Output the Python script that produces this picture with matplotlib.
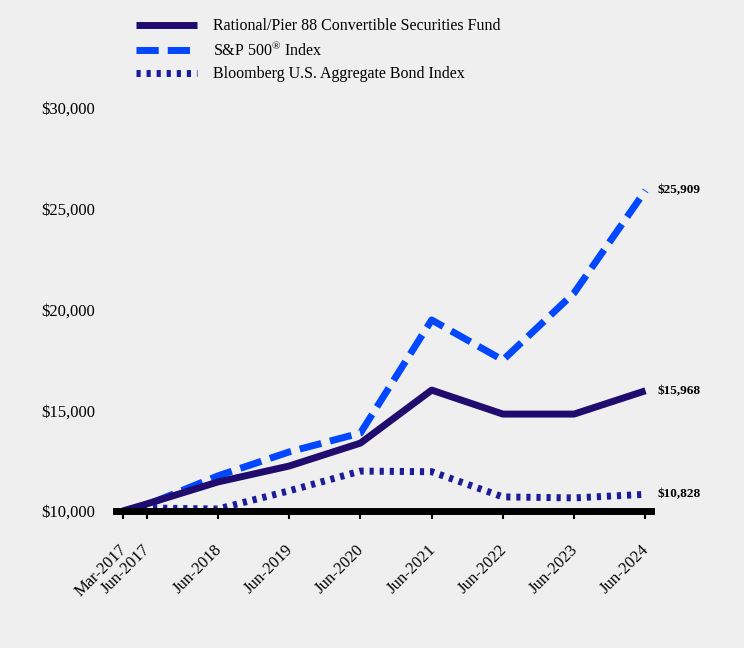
import datetime as dt
import matplotlib
matplotlib.use("Agg")
import matplotlib.pyplot as plt
import matplotlib.dates as mdates
import matplotlib.transforms as mtransforms

dates = [dt.date(2017, 3, 1), dt.date(2017, 6, 30), dt.date(2018, 6, 30),
         dt.date(2019, 6, 30), dt.date(2020, 6, 30), dt.date(2021, 6, 30),
         dt.date(2022, 6, 30), dt.date(2023, 6, 30), dt.date(2024, 6, 30)]
tick_labels = ['Mar-2017', 'Jun-2017', 'Jun-2018', 'Jun-2019', 'Jun-2020',
               'Jun-2021', 'Jun-2022', 'Jun-2023', 'Jun-2024']

fund = [10000, 10350, 11440, 12230, 13370, 16000, 14810, 14810, 15968]
sp500 = [10000, 10300, 11740, 12930, 13870, 19480, 17490, 20820, 25909]
bond = [10000, 10150, 10100, 11000, 11980, 11950, 10700, 10650, 10828]

bg = '#efefef'
plt.rcParams['font.family'] = ['Liberation Serif', 'DejaVu Serif']
plt.rcParams['mathtext.fontset'] = 'custom'
plt.rcParams['mathtext.rm'] = 'Liberation Serif'

fig = plt.figure(figsize=(7.44, 6.48), dpi=100, facecolor=bg)
ax = fig.add_axes([116/744, 1 - 511/648, (651 - 116)/744, (511 - 108)/648])
ax.set_facecolor(bg)

ax.plot(dates, fund, color='#1f0c6e', lw=5, solid_capstyle='butt',
        label='Rational/Pier 88 Convertible Securities Fund', zorder=3)
ax.plot(dates, sp500, color='#0047ff', lw=5, dashes=(3.2, 1.3),
        dash_capstyle='butt', label='S&P 500$^\\mathrm{\u00ae}$ Index', zorder=2)
ax.plot(dates, bond, color='#1c1c9a', lw=5, dashes=(0.6, 0.85),
        dash_capstyle='butt', label='Bloomberg U.S. Aggregate Bond Index', zorder=1)

# x limits from pixel layout
x0 = mdates.date2num(dates[0])
x1 = mdates.date2num(dates[-1])
per_px = (x1 - x0) / (645.5 - 123)
ax.set_xlim(x0 - (123 - 116) * per_px, x1 + (651 - 645.5) * per_px)
ax.set_ylim(10000, 30000)

for s in ['top', 'right', 'left']:
    ax.spines[s].set_visible(False)
ax.spines['bottom'].set_linewidth(5)
ax.spines['bottom'].set_zorder(4)

ax.set_xticks(dates)
ax.set_xticklabels(tick_labels, rotation=45, ha='right', rotation_mode='anchor',
                   fontsize=12)
ax.tick_params(axis='x', length=6, width=1.5, pad=16)
shift = mtransforms.ScaledTranslation(-3/72, 0, fig.dpi_scale_trans)
for lbl in ax.get_xticklabels():
    lbl.set_transform(lbl.get_transform() + shift)
ax.set_yticks([10000, 15000, 20000, 25000, 30000])
ax.set_yticklabels(['$%s' % format(v, ',') for v in [10000, 15000, 20000, 25000, 30000]],
                   fontsize=12)
ax.tick_params(axis='y', length=0, pad=15)

for series in [fund, sp500, bond]:
    ax.annotate('$%s' % format(series[-1], ','), (dates[-1], series[-1]),
                xytext=(9, 0), textcoords='offset points', va='center',
                fontsize=9.5, fontweight='bold')

fig.legend(loc='upper left', bbox_to_anchor=(122/744, 1 - 4/648), frameon=False,
           fontsize=11.5, handlelength=3.8, handletextpad=1.0, labelspacing=0.42)

fig.savefig('out.png', dpi=100, facecolor=bg)
